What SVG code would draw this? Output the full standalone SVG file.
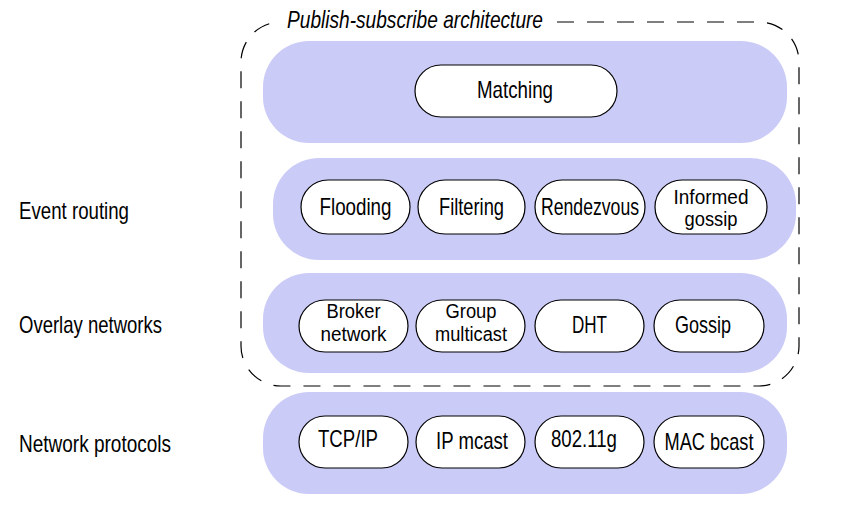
<svg xmlns="http://www.w3.org/2000/svg" width="854" height="510" viewBox="0 0 854 510">
<style>
.band{fill:#cbcbf7;stroke:none}
.pill{fill:#ffffff;stroke:#000;stroke-width:1.2}
.t{font-family:"Liberation Sans",Arial,sans-serif;font-size:24px;fill:#000;text-anchor:middle}
.t2{font-family:"Liberation Sans",Arial,sans-serif;font-size:20px;fill:#000;text-anchor:middle}
.lbl{font-family:"Liberation Sans",Arial,sans-serif;font-size:24px;fill:#000}
.title{font-family:"Liberation Sans",Arial,sans-serif;font-size:24px;font-style:italic;fill:#000}
.dash{fill:none;stroke:#000;stroke-width:1.2;stroke-dasharray:17 13}
</style>
<rect width="854" height="510" fill="#fff"/>
<g id="labels">
<text class="lbl" x="19" y="219" textLength="110" lengthAdjust="spacingAndGlyphs">Event routing</text>
<text class="lbl" x="19" y="333" textLength="143" lengthAdjust="spacingAndGlyphs">Overlay networks</text>
<text class="lbl" x="19" y="452" textLength="152" lengthAdjust="spacingAndGlyphs">Network protocols</text>
</g>
<g id="pubsub-boundary">
<path class="dash" d="M 557 22 H 759 A 40 40 0 0 1 799 62 V 346 A 40 40 0 0 1 759 386 H 281 A 40 40 0 0 1 241 346 V 62 A 40 40 0 0 1 277 22.2"/>
<text class="title" x="287" y="28" textLength="256" lengthAdjust="spacingAndGlyphs">Publish-subscribe architecture</text>
</g>
<g id="layer-matching">
<rect class="band" x="263" y="41" width="524" height="102" rx="46"/>
<g id="matching"><rect class="pill" x="415" y="65" width="202" height="52" rx="26"/><text class="t" x="515" y="98" textLength="76" lengthAdjust="spacingAndGlyphs">Matching</text></g>
</g>
<g id="layer-event-routing">
<rect class="band" x="273" y="158" width="523" height="102" rx="46"/>
<g id="flooding"><rect class="pill" x="301" y="180" width="109" height="54" rx="27"/><text class="t" x="355.5" y="215" textLength="72" lengthAdjust="spacingAndGlyphs">Flooding</text></g>
<g id="filtering"><rect class="pill" x="418" y="180" width="107" height="54" rx="27"/><text class="t" x="471.5" y="215" textLength="65" lengthAdjust="spacingAndGlyphs">Filtering</text></g>
<g id="rendezvous"><rect class="pill" x="535" y="180" width="110" height="54" rx="27"/><text class="t" x="590" y="215" textLength="98" lengthAdjust="spacingAndGlyphs">Rendezvous</text></g>
<g id="informed-gossip"><rect class="pill" x="655" y="180" width="112" height="54" rx="27"/><text class="t2" x="711" y="203.5" textLength="75" lengthAdjust="spacingAndGlyphs">Informed</text><text class="t2" x="711" y="226" textLength="53" lengthAdjust="spacingAndGlyphs">gossip</text></g>
</g>
<g id="layer-overlay">
<rect class="band" x="263" y="273" width="524" height="100" rx="46"/>
<g id="broker-network"><rect class="pill" x="299" y="300" width="109" height="52" rx="26"/><text class="t2" x="353.5" y="318" textLength="54" lengthAdjust="spacingAndGlyphs">Broker</text><text class="t2" x="353.5" y="340.5" textLength="66" lengthAdjust="spacingAndGlyphs">network</text></g>
<g id="group-multicast"><rect class="pill" x="416" y="300" width="109" height="52" rx="26"/><text class="t2" x="471" y="318" textLength="51" lengthAdjust="spacingAndGlyphs">Group</text><text class="t2" x="471" y="340.5" textLength="72" lengthAdjust="spacingAndGlyphs">multicast</text></g>
<g id="dht"><rect class="pill" x="535" y="300" width="109" height="52" rx="26"/><text class="t" x="589.5" y="333" textLength="35" lengthAdjust="spacingAndGlyphs">DHT</text></g>
<g id="gossip"><rect class="pill" x="654" y="300" width="110" height="52" rx="26"/><text class="t" x="703" y="333" textLength="56" lengthAdjust="spacingAndGlyphs">Gossip</text></g>
</g>
<g id="layer-network">
<rect class="band" x="263" y="392" width="524" height="102" rx="46"/>
<g id="tcp-ip"><rect class="pill" x="299" y="416" width="109" height="52" rx="26"/><text class="t" x="348" y="447" textLength="60" lengthAdjust="spacingAndGlyphs">TCP/IP</text></g>
<g id="ip-mcast"><rect class="pill" x="416" y="416" width="109" height="52" rx="26"/><text class="t" x="472" y="449" textLength="72" lengthAdjust="spacingAndGlyphs">IP mcast</text></g>
<g id="wifi"><rect class="pill" x="535" y="416" width="109" height="52" rx="26"/><text class="t" x="584" y="447" textLength="66" lengthAdjust="spacingAndGlyphs">802.11g</text></g>
<g id="mac-bcast"><rect class="pill" x="654" y="416" width="110" height="52" rx="26"/><text class="t" x="709" y="450" textLength="89" lengthAdjust="spacingAndGlyphs">MAC bcast</text></g>
</g>
<g id="connectors"></g>
</svg>
